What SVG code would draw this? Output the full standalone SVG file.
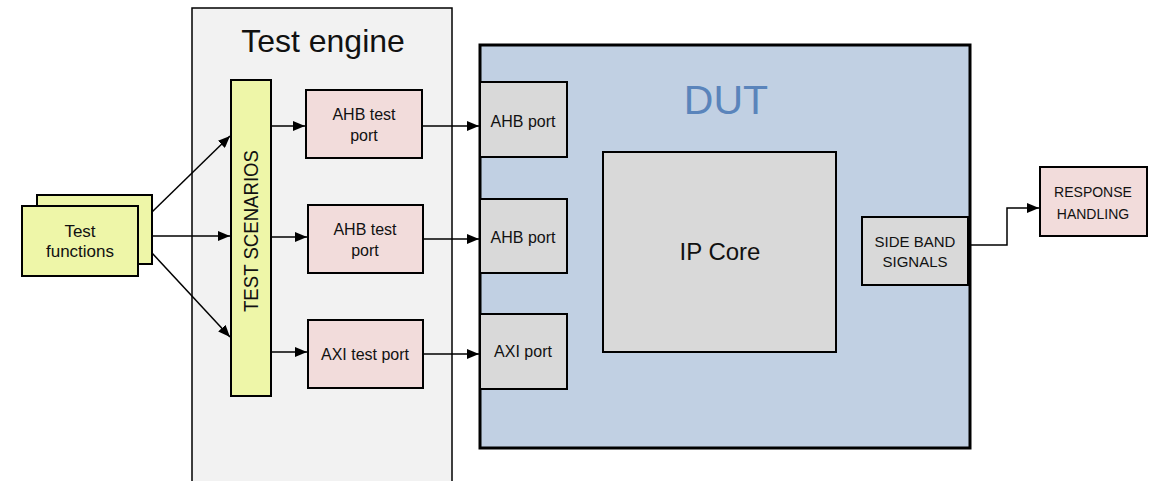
<svg xmlns="http://www.w3.org/2000/svg" width="1155" height="481" viewBox="0 0 1155 481">
  <style>
    text { font-family: "Liberation Sans", Arial, sans-serif; fill: #111; text-anchor: middle; }
    .box { stroke: #000; stroke-width: 2; }
    .yellow { fill: #eef6a8; }
    .pink { fill: #f2dcdb; }
    .grey { fill: #d9d9d9; }
    .wire { stroke: #000; stroke-width: 1.5; fill: none; }
    .lbl { font-size: 16px; }
  </style>
  <defs>
    <marker id="arrow" viewBox="0 0 12 10" refX="12" refY="5" markerWidth="12" markerHeight="10" markerUnits="userSpaceOnUse" orient="auto">
      <path d="M0,0 L12,5 L0,10 z" fill="#000"/>
    </marker>
  </defs>

  <!-- Test engine container -->
  <g id="test-engine">
    <rect x="192" y="8" width="260" height="480" fill="#f2f2f2" stroke="#000" stroke-width="1.5"/>
    <text x="323" y="52" font-size="32">Test engine</text>
  </g>

  <!-- DUT container -->
  <g id="dut">
    <rect x="480" y="45" width="490" height="403" fill="#c1d0e3" stroke="#000" stroke-width="3"/>
    <text x="726" y="114" font-size="41" style="fill:#5a84bb">DUT</text>
  </g>

  <g id="test-functions">
    <rect class="box yellow" x="37" y="195" width="115" height="69"/>
    <rect class="box yellow" x="22" y="206" width="116" height="70"/>
    <text x="80" y="237" font-size="17">Test</text>
    <text x="80" y="257" font-size="17">functions</text>
  </g>

  <g id="test-scenarios">
    <rect class="box yellow" x="231" y="80" width="40" height="316"/>
    <text transform="translate(258,231) rotate(-90)" font-size="20" textLength="162" lengthAdjust="spacingAndGlyphs">TEST SCENARIOS</text>
  </g>

  <g id="ahb-test-port-1">
    <rect class="box pink" x="306" y="90" width="116" height="68"/>
    <text class="lbl" x="364" y="120">AHB test</text>
    <text class="lbl" x="364" y="141">port</text>
  </g>

  <g id="ahb-test-port-2">
    <rect class="box pink" x="308" y="205" width="115" height="68"/>
    <text class="lbl" x="365" y="235">AHB test</text>
    <text class="lbl" x="365" y="256">port</text>
  </g>

  <g id="axi-test-port">
    <rect class="box pink" x="308" y="320" width="115" height="68"/>
    <text class="lbl" x="365" y="360">AXI test port</text>
  </g>

  <g id="ahb-port-1">
    <rect class="box grey" x="480" y="82" width="87" height="75"/>
    <text class="lbl" x="523" y="127">AHB port</text>
  </g>

  <g id="ahb-port-2">
    <rect class="box grey" x="480" y="199" width="87" height="74"/>
    <text class="lbl" x="523" y="243">AHB port</text>
  </g>

  <g id="axi-port">
    <rect class="box grey" x="480" y="314" width="87" height="75"/>
    <text class="lbl" x="523" y="357">AXI port</text>
  </g>

  <g id="ip-core">
    <rect class="box grey" x="603" y="152" width="233" height="200"/>
    <text x="720" y="260" font-size="24">IP Core</text>
  </g>

  <g id="side-band-signals">
    <rect class="box grey" x="862" y="217" width="106" height="68"/>
    <text x="915" y="247" font-size="15">SIDE BAND</text>
    <text x="915" y="267" font-size="15">SIGNALS</text>
  </g>

  <g id="response-handling">
    <rect class="box pink" x="1040" y="167" width="107" height="69"/>
    <text x="1093" y="197" font-size="14">RESPONSE</text>
    <text x="1093" y="219" font-size="14">HANDLING</text>
  </g>

  <!-- Connectors -->
  <g id="connectors">
    <line class="wire" x1="152" y1="212" x2="230" y2="136" marker-end="url(#arrow)"/>
    <line class="wire" x1="152" y1="236" x2="230" y2="236" marker-end="url(#arrow)"/>
    <line class="wire" x1="152" y1="253" x2="230" y2="337" marker-end="url(#arrow)"/>
    <line class="wire" x1="271" y1="126" x2="305" y2="126" marker-end="url(#arrow)"/>
    <line class="wire" x1="271" y1="237" x2="307" y2="237" marker-end="url(#arrow)"/>
    <line class="wire" x1="271" y1="352" x2="307" y2="352" marker-end="url(#arrow)"/>
    <line class="wire" x1="422" y1="126" x2="479" y2="126" marker-end="url(#arrow)"/>
    <line class="wire" x1="423" y1="239" x2="479" y2="239" marker-end="url(#arrow)"/>
    <line class="wire" x1="423" y1="354" x2="479" y2="354" marker-end="url(#arrow)"/>
    <polyline class="wire" points="968,245 1007,245 1007,208 1039,208" marker-end="url(#arrow)"/>
  </g>
</svg>
